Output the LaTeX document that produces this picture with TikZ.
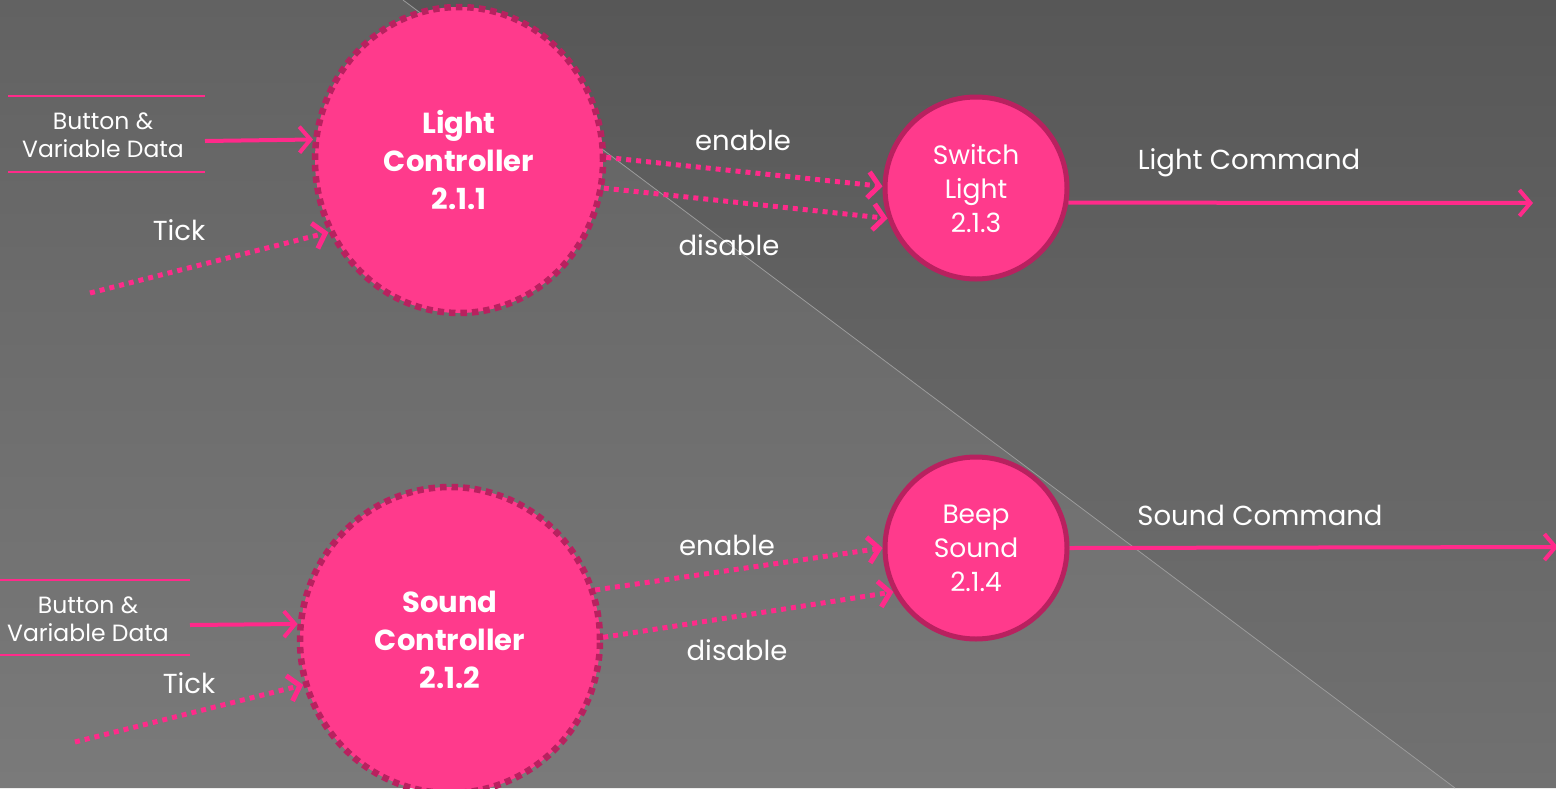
\documentclass[tikz,border=0pt]{standalone}
\usepackage{fontspec}
\setmainfont{Poppins}
\usetikzlibrary{arrows.meta,shapes.geometric}
\definecolor{pinkfill}{HTML}{FF3A8C}
\definecolor{pinkline}{HTML}{FF2A8A}
\definecolor{pinkedge}{HTML}{B8215F}
\definecolor{bgLtop}{HTML}{626262}
\definecolor{bgLbot}{HTML}{7A7A7A}
\definecolor{bgRtop}{HTML}{575757}
\definecolor{bgRbot}{HTML}{717171}
\definecolor{diag}{HTML}{9A9A9A}
\begin{document}
\begin{tikzpicture}[x=1pt,y=-1pt,
  proc/.style={ellipse, fill=pinkfill, draw=pinkedge, line width=6.5pt, dash pattern=on 6.5pt off 5pt, inner sep=0pt, text=white, align=center, font=\bfseries\fontsize{29}{38}\selectfont},
  smallproc/.style={circle, fill=pinkfill, draw=pinkedge, line width=5pt, minimum size=182pt, inner sep=0pt, text=white, align=center, font=\fontsize{26.5}{34}\selectfont},
  flow/.style={draw=pinkline, line width=4pt, -{Straight Barb[length=11pt,width=26pt]}},
  dotflow/.style={flow, line width=5pt, dash pattern=on 5pt off 5pt},
  lbl/.style={text=white, inner sep=0pt, font=\fontsize{27.5}{32}\selectfont},
  store/.style={text=white, inner sep=0pt, align=center, font=\fontsize{23.5}{28}\selectfont},
  storeline/.style={draw=pinkline, line width=2pt}
]
\useasboundingbox (0,0) rectangle (1556,788);
% background
\shade[top color=bgLtop, bottom color=bgLbot] (0,0) -- (403,0) -- (1455,788) -- (0,788) -- cycle;
\shade[top color=bgRtop, bottom color=bgRbot] (403,0) -- (1556,0) -- (1556,788) -- (1455,788) -- cycle;
\draw[diag, line width=0.8pt] (403,0) -- (1455,788);

% process nodes
\node[proc, minimum width=288pt, minimum height=306pt] (lc) at (459,160) {Light\\Controller\\2.1.1};
\node[proc, minimum width=300pt, minimum height=306pt] (sc) at (450,640) {Sound\\Controller\\2.1.2};
\node[smallproc] (sl) at (976,188) {Switch\\Light\\2.1.3};
\node[smallproc] (bs) at (976,548) {Beep\\Sound\\2.1.4};

% external inputs (top)
\coordinate (s1a) at (8,96);
\coordinate (s1b) at (205,96);
\coordinate (s1c) at (8,172);
\coordinate (s1d) at (205,172);
\draw[storeline] (s1a) -- (s1b);
\draw[storeline] (s1c) -- (s1d);
\node[store] (bv1) at (103,135) {Button \&\\Variable Data};
\coordinate (bv1out) at (205,141);
\coordinate (tick1) at (90,293);

% external inputs (bottom)
\coordinate (s2a) at (0,580);
\coordinate (s2b) at (190,580);
\coordinate (s2c) at (0,655);
\coordinate (s2d) at (190,655);
\draw[storeline] (s2a) -- (s2b);
\draw[storeline] (s2c) -- (s2d);
\node[store] (bv2) at (88,619) {Button \&\\Variable Data};
\coordinate (bv2out) at (190,625);
\coordinate (tick2) at (75,742);

\coordinate (lcmd) at (1533,203);
\coordinate (scmd) at (1558,547);

% flows
\draw[flow] (bv1out) -- (lc.172);
\draw[dotflow] (tick1) -- (lc.209);
\draw[dotflow] (lc.1) -- (sl.179);
\draw[dotflow] (lc.-11) -- (sl.199);
\draw[flow] (sl.-9.5) -- (lcmd);

\draw[flow] (bv2out) -- (sc.174);
\draw[dotflow] (tick2) -- (sc.197);
\draw[dotflow] (sc.19) -- (bs.180);
\draw[dotflow] (sc.1) -- (bs.208);
\draw[flow] (bs.0) -- (scmd);

% labels
\node[lbl] (t1) at (179,230) {Tick};
\node[lbl] (t2) at (189,683) {Tick};
\node[lbl] (en1) at (743,140) {enable};
\node[lbl] (di1) at (729,245) {disable};
\node[lbl] (en2) at (727,545) {enable};
\node[lbl] (di2) at (737,650) {disable};
\node[lbl] (lcl) at (1249,163) {Light Command};
\node[lbl] (scl) at (1260,515) {Sound Command};
\end{tikzpicture}
\end{document}
